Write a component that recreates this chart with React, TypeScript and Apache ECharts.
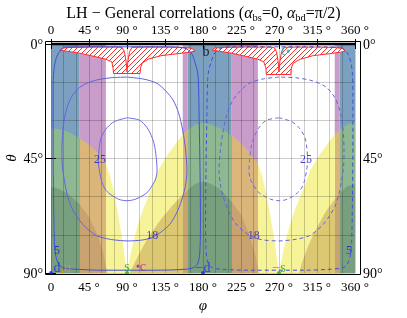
import React, { useEffect, useRef } from 'react';
import * as echarts from 'echarts';

// ---------- data ----------
const xTicks = [0, 45, 90, 135, 180, 225, 270, 315, 360];
const yTicks = [0, 45, 90];

// vertical bands [from, to, kind]
const segments: [number, number, string][] = [
  [0, 34, 'blue'], [34, 65, 'purple'], [65, 156, 'white'], [156, 162, 'purple'],
  [162, 214, 'blue'], [214, 245, 'purple'], [245, 336, 'white'], [336, 342, 'purple'],
  [342, 360, 'blue'],
];

// upper boundary of the yellow region (region lies below, towards theta = 90)
const yellowEdge: [number, number][] = [
  [0, 33], [10, 33.5], [20, 34.5], [34, 37], [45, 39.5], [55, 42.5], [65, 47], [70, 52],
  [75, 59], [80, 68], [84, 76], [87, 83], [89, 88], [90, 90], [91, 88], [94, 83],
  [98, 77], [103, 71], [109, 65], [115, 60], [122, 54], [128, 49], [138, 43.5],
  [148, 39], [156, 35.5], [165, 33], [172, 31.5], [180, 31],
  [188, 31.5], [196, 32.5], [205, 34], [214, 36], [225, 39], [235, 42.5], [245, 47],
  [250, 52], [255, 59], [260, 68], [264, 76], [267, 83], [269, 88], [270, 90],
  [271, 88], [274, 83], [278, 77], [283, 71], [289, 65], [295, 60], [302, 54],
  [308, 49], [318, 43.5], [328, 39], [336, 35.5], [345, 33], [352, 31.5], [360, 31],
];

// upper boundary of the darker region
const darkEdge: [number, number][] = [
  [0, 56], [10, 57], [20, 59], [34, 63], [45, 68], [55, 75], [62, 82], [66, 89], [67, 90],
  [93, 90], [96, 88], [105, 82], [115, 76], [130, 69], [145, 63], [160, 58], [170, 55],
  [180, 54], [190, 55], [200, 57], [214, 62], [225, 67], [235, 75], [242, 83], [246, 90],
  [294, 90], [297, 86], [305, 79], [315, 72], [325, 66], [336, 61], [350, 56], [360, 55],
];

// hatched regions near theta = 0
const redLeft: [number, number][] = [
  [10.5, 2.4], [14, 1.6], [25, 1.3], [50, 1.2], [75, 1.2], [84, 1.3], [87, 3], [89, 7],
  [90, 11], [91, 7], [93, 3], [96, 1.3], [110, 1.2], [140, 1.2], [160, 1.4], [167, 1.8],
  [170.5, 2.8], [165, 3.2], [150, 3.8], [130, 4.6], [115, 6], [108, 7.5], [106, 9.5],
  [105.5, 11.6], [74, 11.6], [73.5, 9.5], [72, 7], [65, 6], [50, 4.8], [34, 3.6],
  [20, 2.9], [10.5, 2.4],
];
const redRight: [number, number][] = [
  [191, 2.4], [194, 1.6], [205, 1.3], [230, 1.2], [255, 1.2], [264, 1.3], [267, 3],
  [269, 7], [270, 11], [271, 7], [273, 3], [276, 1.3], [290, 1.2], [320, 1.2],
  [338, 1.4], [345, 1.8], [348.5, 2.8], [343, 3.2], [330, 3.8], [310, 4.6], [295, 6],
  [287, 7.5], [284.5, 9.5], [284, 12], [255, 12], [254.5, 9.5], [252, 7], [245, 6],
  [230, 4.8], [214, 3.6], [200, 2.9], [191, 2.4],
];
const redRegions = [redLeft, redRight];

// contours (solid: left half, dashed: right half)
const c5Solid: [number, number][] = [
  [16, 1.2], [60, 1.1], [120, 1.1], [150, 1.2], [161, 2], [167, 4], [170.6, 7.4],
  [173, 10], [174.5, 14], [175.5, 30], [176.5, 50], [177, 70], [176.5, 80], [175, 85],
  [171, 87.5], [160, 88.5], [120, 88.9], [60, 88.9], [34, 88.6], [15, 88], [9, 86.5],
  [5.5, 83], [4, 78], [3, 60], [2.5, 40], [2.5, 20], [3, 12], [5, 7], [9, 3.5], [16, 1.2],
];
const c18Solid: [number, number][] = [
  [90, 13], [110, 13.8], [125.6, 15.5], [136, 18.5], [144.5, 22], [151, 27], [156, 34],
  [159.5, 42], [161, 50], [159, 56], [156, 60], [150, 65.5], [141, 70.7], [130, 74],
  [120, 76], [109, 77], [90, 77.4], [75, 77], [66, 76.5], [55, 75.5], [46, 73.5],
  [38, 71], [31, 68], [24, 64], [19, 59], [16, 54], [13.5, 48], [13, 42], [14, 34],
  [16, 29], [19, 25], [24, 21], [34, 17], [50, 14.5], [70, 13.3], [90, 13],
];
const c25Solid: [number, number][] = [
  [90, 29], [105, 30], [114, 33], [120, 37], [123, 40.6], [125, 46], [125.6, 50],
  [124, 53], [121, 55], [115, 58], [109, 59.5], [100, 61], [90, 61.6], [80, 61],
  [70, 59], [64, 57], [60, 54], [57.5, 50], [56, 46], [57, 41], [59, 37], [62, 35],
  [66, 33], [75, 30.5], [90, 29],
];
const c5Dashed: [number, number][] = [
  [344, 1.2], [300, 1.1], [240, 1.1], [210, 1.2], [199, 2], [193, 4], [189.4, 7.4],
  [187, 10], [185.5, 14], [184.5, 30], [183.5, 50], [183, 70], [183.5, 80], [185, 85],
  [189, 87.5], [200, 88.5], [240, 88.9], [300, 88.9], [326, 88.6], [345, 88], [351, 86.5],
  [354.5, 83], [356, 78], [357, 60], [357.5, 40], [357.5, 20], [357, 12], [355, 7],
  [351, 3.5], [344, 1.2],
];
const c18Dashed: [number, number][] = [
  [270, 13], [250, 13.8], [234.4, 15.5], [224, 18.5], [215.5, 22], [209, 27], [204, 34],
  [200.5, 42], [199, 50], [201, 56], [204, 60], [210, 65.5], [219, 70.7], [230, 74],
  [240, 76], [251, 77], [270, 77.4], [285, 77], [294, 76.5], [305, 75.5], [314, 73.5],
  [322, 71], [329, 68], [336, 64], [341, 59], [344, 54], [346.5, 48], [347, 42],
  [346, 34], [344, 29], [341, 25], [336, 21], [326, 17], [310, 14.5], [290, 13.3], [270, 13],
];
const c25Dashed: [number, number][] = [
  [270, 29], [255, 30], [246, 33], [240, 37], [237, 40.6], [235, 46], [234.4, 50],
  [236, 53], [239, 55], [245, 58], [251, 59.5], [260, 61], [270, 61.6], [280, 61],
  [290, 59], [296, 57], [300, 54], [302.5, 50], [304, 46], [303, 41], [301, 37],
  [298, 35], [294, 33], [285, 30.5], [270, 29],
];
const contourLabels: [number, number, string][] = [
  [7, 81, '5'], [120, 75, '18'], [58, 45, '25'],
  [353, 81, '5'], [240, 75, '18'], [302, 45, '25'],
];

// labelled points
const markerNames = ['d', 'u', 's', 'c', '−d', '−s', 't', 'b'];
const markerPhi = [0, 14, 90, 103, 180, 270, 281, 180];
const markerTheta = [90, 89.5, 90, 87.3, 90, 90, 2.8, 0];

// ---------- styles ----------
const FONT = 'Liberation Serif';
const bandColor: Record<string, string> = { blue: '#7ca1c0', purple: '#c99dca' };
const yellowColor: Record<string, string> = { white: '#f7f398', blue: '#8db891', purple: '#dbb67a' };
const darkColor: Record<string, string> = { white: '#dcc873', blue: '#78a07f', purple: '#c9a36f' };
const markerStyle: Record<string, { color: string; size: number; offset: [number, number] }> = {
  'd': { color: '#1f1fff', size: 4, offset: [6, -6] },
  'u': { color: '#ff8c00', size: 3, offset: [5, -4] },
  's': { color: '#1faa1f', size: 4, offset: [0, -7] },
  'c': { color: '#a0209f', size: 3, offset: [5, 0] },
  '−d': { color: '#1f1fff', size: 4, offset: [0, -6] },
  '−s': { color: '#1faa1f', size: 4, offset: [0, -6] },
  't': { color: '#1fb0b0', size: 3, offset: [-5, -1] },
  'b': { color: '#000000', size: 0, offset: [3, 7] },
};

function gradientFor(colors: Record<string, string>) {
  const stops: { offset: number; color: string }[] = [];
  segments.forEach(([a, b, k]) => {
    stops.push({ offset: a / 360, color: colors[k] });
    stops.push({ offset: b / 360, color: colors[k] });
  });
  return new echarts.graphic.LinearGradient(0, 0, 1, 0, stops);
}

function makeHatch() {
  const c = document.createElement('canvas');
  const s = 5;
  c.width = s; c.height = s;
  const ctx = c.getContext('2d')!;
  ctx.fillStyle = '#ffffff';
  ctx.fillRect(0, 0, s, s);
  ctx.strokeStyle = '#ff2a2a';
  ctx.lineWidth = 1;
  ctx.beginPath();
  ctx.moveTo(0, s); ctx.lineTo(s, 0);
  ctx.moveTo(-1, 1); ctx.lineTo(1, -1);
  ctx.moveTo(s - 1, s + 1); ctx.lineTo(s + 1, s - 1);
  ctx.stroke();
  return c;
}

export default function App() {
  const ref = useRef<HTMLDivElement>(null);
  useEffect(() => {
    if (!ref.current) return;
    const chart = echarts.init(ref.current, undefined, { renderer: 'svg' });
    const hatch = makeHatch();

    const bandSeries = (kind: string) => ({
      type: 'custom',
      silent: true,
      z: 1,
      clip: true,
      data: segments.filter((s) => s[2] === kind).map((s) => [s[0], s[1]]),
      renderItem: (_p: any, api: any) => {
        const a = api.coord([api.value(0), 0]);
        const b = api.coord([api.value(1), 90]);
        return {
          type: 'rect',
          shape: { x: a[0], y: a[1], width: b[0] - a[0], height: b[1] - a[1] },
          style: { fill: bandColor[kind] },
        };
      },
    });

    const contour = (data: [number, number][], color: string, dashed: boolean) => ({
      type: 'line',
      data,
      symbol: 'none',
      smooth: 0.3,
      z: 5,
      silent: true,
      lineStyle: { color, width: 1, type: dashed ? [4, 3] : 'solid' },
    });

    const axisLabelX = { fontFamily: FONT, fontSize: 13, color: '#000', formatter: (v: number) => (v === 0 ? '0' : `${v} °`) };
    const axisLabelY = { fontFamily: FONT, fontSize: 14, color: '#000', formatter: (v: number) => `${v}°` };
    const gridColor = 'rgba(0,0,0,0.2)';

    chart.setOption({
      animation: false,
      textStyle: { fontFamily: FONT },
      title: {
        text: '{n|LH − General correlations (}{a|α}{s|bs}{n|=0, }{a|α}{s|bd}{n|=π/2)}',
        left: 'center',
        top: 1,
        padding: 0,
        textStyle: {
          fontWeight: 'normal',
          rich: {
            n: { fontFamily: FONT, fontSize: 16, fontWeight: 'normal', color: '#000', lineHeight: 22 },
            a: { fontFamily: FONT, fontSize: 16, fontWeight: 'normal', fontStyle: 'italic', color: '#000', lineHeight: 22 },
            s: { fontFamily: FONT, fontSize: 10.5, fontWeight: 'normal', color: '#000', lineHeight: 22, verticalAlign: 'bottom' },
          },
        },
      },
      grid: { left: 51, right: 52, top: 44, bottom: 45, containLabel: false, outerBoundsMode: 'none' },
      xAxis: [
        {
          type: 'value', min: 0, max: 360, interval: 45, position: 'bottom', offset: 2, z: 3,
          axisLine: { show: false },
          axisTick: { show: true, inside: true, length: 5, lineStyle: { color: '#000' } },
          axisLabel: { ...axisLabelX, margin: 5, customValues: xTicks },
          splitLine: { show: true, lineStyle: { color: gridColor, width: 1 } },
          minorTick: { show: false, splitNumber: 3 },
          minorSplitLine: { show: true, lineStyle: { color: gridColor, width: 1 } },
          name: 'φ', nameLocation: 'middle', nameGap: 16,
          nameTextStyle: { fontFamily: FONT, fontSize: 15, fontStyle: 'italic', color: '#000' },
        },
        {
          type: 'value', min: 0, max: 360, interval: 45, position: 'top', offset: 3, z: 3,
          axisLine: { show: false },
          axisTick: { show: true, inside: true, length: 5, lineStyle: { color: '#000' } },
          axisLabel: { ...axisLabelX, margin: 5 },
          splitLine: { show: false },
        },
      ],
      yAxis: [
        {
          type: 'value', min: 0, max: 90, interval: 45, inverse: true, position: 'left', offset: 6, z: 3,
          axisLine: { show: false },
          axisTick: { show: true, inside: true, length: 5, lineStyle: { color: '#000' } },
          axisLabel: { ...axisLabelY, margin: 2, customValues: yTicks },
          splitLine: { show: true, lineStyle: { color: gridColor, width: 1 } },
          minorTick: { show: false, splitNumber: 3 },
          minorSplitLine: { show: true, lineStyle: { color: gridColor, width: 1 } },
        },
        {
          type: 'value', min: 0, max: 90, interval: 45, inverse: true, position: 'right', offset: 6, z: 3,
          axisLine: { show: false },
          axisTick: { show: true, inside: true, length: 5, lineStyle: { color: '#000' } },
          axisLabel: { ...axisLabelY, margin: 2 },
          splitLine: { show: false },
        },
      ],
      series: [
        bandSeries('blue'),
        bandSeries('purple'),
        {
          type: 'line', data: yellowEdge, symbol: 'none', z: 2, silent: true,
          lineStyle: { width: 0 },
          areaStyle: { origin: 'end', opacity: 1, color: gradientFor(yellowColor) },
        },
        {
          type: 'line', data: darkEdge, symbol: 'none', z: 2, silent: true,
          lineStyle: { width: 0 },
          areaStyle: { origin: 'end', opacity: 1, color: gradientFor(darkColor) },
        },
        {
          type: 'custom', z: 4, silent: true,
          data: [[90, 5], [270, 5]],
          renderItem: (p: any, api: any) => {
            const pts = redRegions[p.dataIndex].map((q) => api.coord(q));
            return {
              type: 'polygon',
              shape: { points: pts },
              style: { fill: { image: hatch, repeat: 'repeat' }, stroke: '#ff2a2a', lineWidth: 1 },
            };
          },
        },
        contour(c5Solid, '#3f4fd8', false),
        contour(c18Solid, '#6262e0', false),
        contour(c25Solid, '#6c6ce4', false),
        contour(c5Dashed, '#3f4fd8', true),
        contour(c18Dashed, '#6262e0', true),
        contour(c25Dashed, '#6c6ce4', true),
        {
          type: 'line', data: [[0, 0], [360, 0]], symbol: 'none', z: 6, clip: false, silent: true,
          lineStyle: { color: '#000', width: 2.5 },
        },
        {
          type: 'scatter', z: 7, silent: true, symbolSize: 0, clip: false,
          data: contourLabels.map((c) => ({ value: [c[0], c[1]], name: c[2] })),
          label: {
            show: true, position: 'inside', formatter: '{b}',
            fontFamily: FONT, fontSize: 12, color: '#1a1ad0',
          },
        },
        {
          type: 'scatter', z: 8, silent: true, clip: false,
          data: markerNames.map((n, i) => {
            const st = markerStyle[n];
            return {
              value: [markerPhi[i], markerTheta[i]],
              name: n,
              symbolSize: st.size,
              itemStyle: { color: st.color },
              label: {
                show: true, position: 'inside', offset: st.offset, formatter: '{b}',
                fontFamily: FONT, fontSize: 14, color: st.color,
              },
            };
          }),
        },
      ],
      graphic: [
        {
          type: 'rect', z: 100, silent: true,
          shape: { x: 45.5, y: 41.5, width: 315, height: 233 },
          style: { fill: 'none', stroke: '#000', lineWidth: 1 },
        },
        {
          type: 'text', z: 100, silent: true,
          x: 11, y: 158, rotation: Math.PI / 2,
          style: {
            text: 'θ', fill: '#000', align: 'center', verticalAlign: 'middle',
            font: `italic 15px "${FONT}"`,
          },
        },
      ],
    });
    return () => chart.dispose();
  }, []);
  return <div ref={ref} style={{ position: 'fixed', left: 0, top: 0, width: 407, height: 318 }} />;
}
